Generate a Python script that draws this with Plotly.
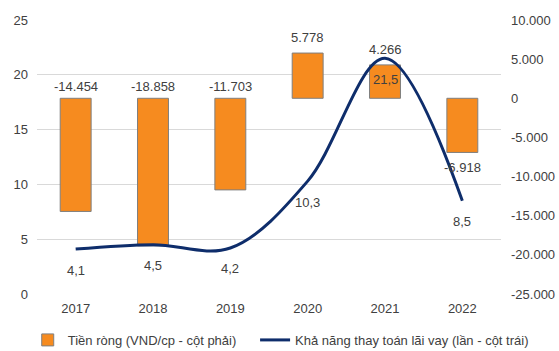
import plotly.graph_objects as go

years = ["2017", "2018", "2019", "2020", "2021", "2022"]
net_cash = [-14454, -18858, -11703, 5778, 4266, -6918]
coverage = [4.1, 4.5, 4.2, 10.3, 21.5, 8.5]
right_ticks = [-25000, -20000, -15000, -10000, -5000, 0, 5000, 10000]

bar_name = "Tiền ròng (VND/cp - cột phải)"
line_name = "Khả năng thay toán lãi vay (lần - cột trái)"

TXT = "#404040"
FONT = "Liberation Sans, Arial, sans-serif"

def vn(v, dec=0):
    s = f"{v:,.{dec}f}"
    return s.replace(",", "X").replace(".", ",").replace("X", ".")

fig = go.Figure()
fig.add_trace(go.Bar(
    x=years, y=net_cash, name=bar_name, yaxis="y", legend="legend",
    marker=dict(color="#F68B1F", line=dict(color="#7F7F7F", width=1)),
    width=0.4,
))
fig.add_trace(go.Scatter(
    x=years, y=coverage, name=line_name, yaxis="y2", mode="lines", legend="legend2",
    line=dict(color="#0E2D6B", width=3, shape="spline", smoothing=1.0),
))

ann = []
bar_label_at_end_below = [False, False, False, False, False, True]
for i, (v, below) in enumerate(zip(net_cash, bar_label_at_end_below)):
    if below:
        ann.append(dict(x=i, y=v, xref="x", yref="y", text=vn(v), showarrow=False,
                        yanchor="top", yshift=-6, font=dict(size=13, color=TXT, family=FONT)))
    else:
        ann.append(dict(x=i, y=max(v, 0), xref="x", yref="y", text=vn(v), showarrow=False,
                        yanchor="bottom", yshift=6 if v > 0 else 2,
                        font=dict(size=13, color=TXT, family=FONT)))
for i, v in enumerate(coverage):
    ann.append(dict(x=i, y=v, xref="x", yref="y2", text=vn(v, 1), showarrow=False,
                    yanchor="middle", yshift=-21, font=dict(size=13, color=TXT, family=FONT)))

legend_common = dict(orientation="h", xanchor="left", y=-0.113, yanchor="top",
                     font=dict(size=13, color=TXT), bgcolor="rgba(0,0,0,0)")

fig.update_layout(
    width=559, height=351,
    margin=dict(l=37, r=58, t=20, b=57, autoexpand=False),
    paper_bgcolor="white", plot_bgcolor="white",
    font=dict(family=FONT, size=13, color=TXT),
    showlegend=True,
    legend=dict(x=-0.02, **legend_common),
    legend2=dict(x=0.47, **legend_common),
    xaxis=dict(type="category", range=[-0.5, len(years) - 0.5], showgrid=False,
               showline=False, ticks="", tickfont=dict(size=13, color=TXT),
               ticklabelstandoff=5),
    yaxis=dict(side="right", range=[-25000, 10000], tickvals=right_ticks,
               ticktext=[vn(t) for t in right_ticks],
               showgrid=False, zeroline=False, showline=False, ticks="",
               tickfont=dict(size=13, color=TXT), ticklabelstandoff=9),
    yaxis2=dict(side="left", overlaying="y", range=[0, 25], dtick=5,
                showgrid=True, gridcolor="#D9D9D9", gridwidth=1, zeroline=False,
                showline=False, ticks="", tickfont=dict(size=13, color=TXT),
                ticklabelstandoff=8),
    annotations=ann,
)

fig.write_html("out.html")
